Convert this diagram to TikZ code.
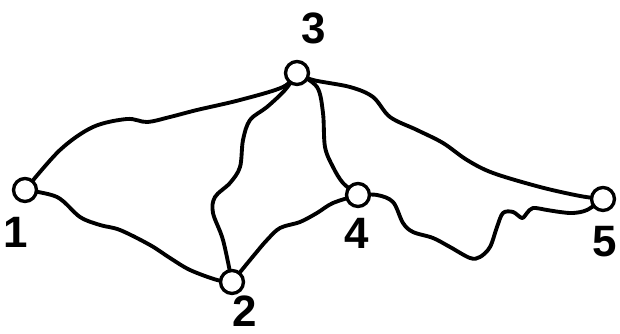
\documentclass[tikz,border=0pt]{standalone}
\usepackage{fontspec}
\setmainfont{Liberation Sans}
\usepackage{tikz}
\usetikzlibrary{positioning}
\pgfdeclarelayer{bg}
\pgfsetlayers{bg,main}

\begin{document}
\begin{tikzpicture}[x=0.02cm, y=0.02cm,
    vertex/.style={circle, draw, fill=white, line width=1.9pt, minimum size=0.46cm, inner sep=0pt},
    wire/.style={line width=2.2pt, line join=round, line cap=round},
    lbl/.style={font=\fontsize{25}{27}\selectfont\bfseries, inner sep=0pt}]
    \useasboundingbox (0,0) rectangle (620,334);

    \node[vertex] (n1) at (25,144) {};
    \node[vertex] (n2) at (232,52) {};
    \node[vertex] (n3) at (297,261) {};
    \node[vertex] (n4) at (358,139) {};
    \node[vertex] (n5) at (603,135) {};

    \node[lbl] (l1) at (16,102) {1};
    \node[lbl] (l2) at (245,23) {2};
    \node[lbl] (l3) at (314,306) {3};
    \node[lbl] (l4) at (357,101) {4};
    \node[lbl] (l5) at (605,92) {5};

    \begin{pgfonlayer}{bg}
    % wobbly edges
    \draw[wire] plot[smooth, tension=0.55] coordinates {(n1) (60,184) (93,207) (127,215) (147,212)
        (170,217) (197,224) (240,234) (283,247) (n3)};
    \draw[wire] plot[smooth, tension=0.55] coordinates {(n1) (57,137) (80,117) (100,109) (120,104)
        (150,89) (170,76) (190,64) (217,54) (n2)};
    \draw[wire] plot[smooth, tension=0.55] coordinates {(n2) (223,94) (213,121) (215,137) (230,151)
        (240,167) (243,194) (250,214) (267,227) (285,244) (n3)};
    \draw[wire] plot[smooth, tension=0.55] coordinates {(n2) (255,80) (267,94) (280,106) (300,112)
        (317,121) (333,131) (n4)};
    \draw[wire] plot[smooth, tension=0.55] coordinates {(n3) (317,247) (323,221) (325,187) (333,167)
        (343,151) (n4)};
    \draw[wire] plot[smooth, tension=0.55] coordinates {(n3) (313,254) (350,247) (373,237) (390,217)
        (417,204) (443,191) (467,174) (493,161) (540,147) (580,138) (n5)};
    \draw[wire] plot[smooth, tension=0.55] coordinates {(n4) (377,139) (393,132) (403,111) (413,102)
        (433,96) (450,87) (470,76) (480,77) (490,87) (497,107) (503,121) (513,122) (522,116)
        (527,121) (533,126) (547,124) (560,122) (573,121) (587,124) (n5)};
    \end{pgfonlayer}
\end{tikzpicture}
\end{document}
